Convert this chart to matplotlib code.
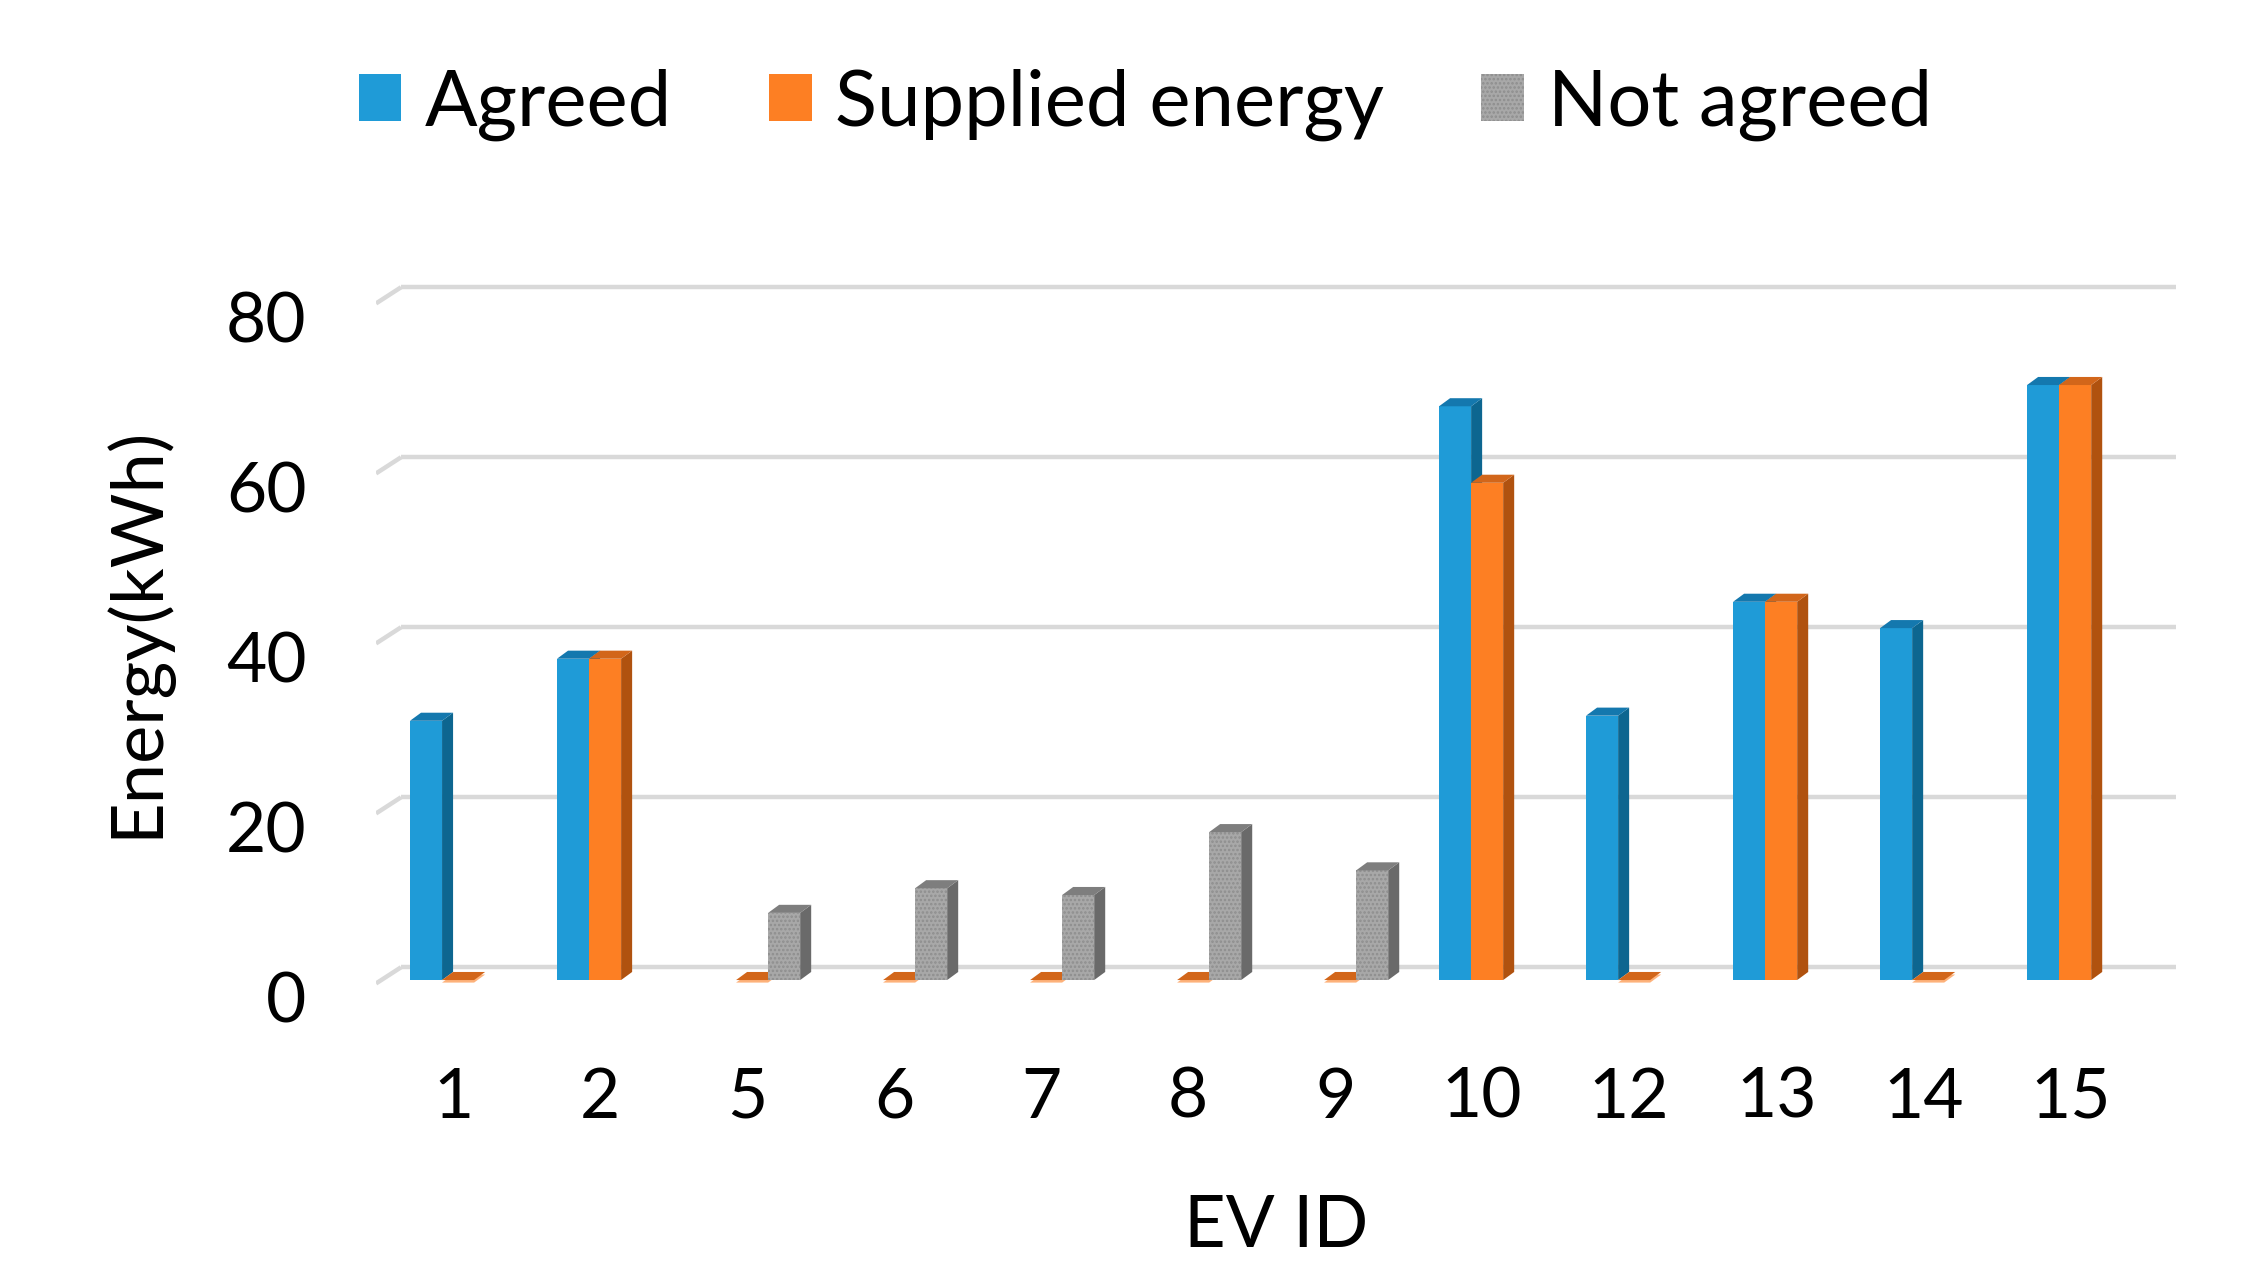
import matplotlib
matplotlib.use("Agg")
import matplotlib.pyplot as plt
from matplotlib.patches import Polygon, Patch
from matplotlib.transforms import ScaledTranslation
import numpy as np

nan = float("nan")
ev_ids = ["1", "2", "5", "6", "7", "8", "9", "10", "12", "13", "14", "15"]
agreed = [30.5, 37.8, nan, nan, nan, nan, nan, 67.5, 31.1, 44.5, 41.4, 70.0]
supplied = [0, 37.8, 0, 0, 0, 0, 0, 58.5, 0, 44.5, 0, 70.0]
not_agreed = [nan, nan, 7.9, 10.8, 10.0, 17.4, 12.9, nan, nan, nan, nan, nan]
series_names = ["Agreed", "Supplied energy", "Not agreed"]
yticks = [0, 20, 40, 60, 80]

plt.rcParams['font.family'] = ['Lato', 'DejaVu Sans']
plt.rcParams['hatch.linewidth'] = 1.2

fig = plt.figure(figsize=(22.41, 12.73), dpi=100)
ax = fig.add_axes([0.1678, 0.2101, 0.8032, 0.5876])
ax.set_xlim(-0.524, 11.72)
ax.set_ylim(-3, 85)

faces = ["#1F9BD7", "#FD7F23", "#A8A8A8"]
sides = ["#0D6690", "#B0520F", "#6A6A6A"]
tops = ["#1478AE", "#D2661A", "#7E7E7E"]
hatches = [None, None, "...."]
offsets = [-0.184, 0.034, 0.252]
w = 0.218
dx, dy = 0.075, 0.95
gdy = 1.5

# back-wall gridlines with perspective stub
xl, xr = ax.get_xlim()
stub = 0.17
for v in yticks:
    ax.plot([xl + stub, xr], [v + gdy, v + gdy], color="#D9D9D9", lw=3.2,
            solid_capstyle="butt", zorder=1)
    ax.plot([xl, xl + stub], [v - 0.4, v + gdy], color="#D9D9D9", lw=3.2,
            solid_capstyle="butt", zorder=1)

x = np.arange(len(ev_ids))
for si, data in enumerate([agreed, supplied, not_agreed]):
    for j, v in enumerate(data):
        if np.isnan(v):
            continue
        xc = x[j] + offsets[si]
        x0, x1 = xc - w / 2, xc + w / 2
        z = 3 + j * 0.01 + si * 0.001
        if v > 0:
            ax.bar(xc, v, width=w, color=faces[si], edgecolor="#8E8E8E" if si == 2 else faces[si],
                   hatch=hatches[si], linewidth=0, zorder=z)
            side = Polygon([(x1, 0), (x1 + dx, dy), (x1 + dx, v + dy), (x1, v)],
                           closed=True, facecolor=sides[si], edgecolor="none", zorder=z)
            ax.add_patch(side)
        top = Polygon([(x0, v), (x0 + dx, v + dy), (x1 + dx, v + dy), (x1, v)],
                      closed=True, facecolor=tops[si], edgecolor="none", zorder=z)
        ax.add_patch(top)
        if v == 0:
            slab = Polygon([(x0, -0.3), (x0 + dx, dy - 0.3), (x1 + dx, dy - 0.3), (x1, -0.3)],
                           closed=True, facecolor=faces[si], edgecolor="none", alpha=0.6, zorder=z - 0.0005)
            ax.add_patch(slab)

ax.set_xticks(x)
ax.set_xticklabels(ev_ids, fontsize=50)
ax.set_yticks(yticks)
ax.set_yticklabels([str(t) for t in yticks], fontsize=50)
ax.tick_params(axis="both", length=0)
ax.tick_params(axis="x", pad=44)
ax.tick_params(axis="y", pad=50)
shift = ScaledTranslation(0, -12 / 72, fig.dpi_scale_trans)
for lbl in ax.get_yticklabels():
    lbl.set_transform(lbl.get_transform() + shift)
for s in ax.spines.values():
    s.set_visible(False)

ax.set_xlabel("EV ID", fontsize=52, labelpad=46)
ax.set_ylabel("Energy(kWh)", fontsize=52, labelpad=40)

handles = [Patch(facecolor=faces[0], edgecolor="none"),
           Patch(facecolor=faces[1], edgecolor="none"),
           Patch(facecolor=faces[2], edgecolor="#8E8E8E", hatch="....", linewidth=0)]
fig.legend(handles, series_names, loc="center", bbox_to_anchor=(0.511, 0.918), ncol=3,
           frameon=False, fontsize=56, handlelength=0.55, handleheight=0.55,
           handletextpad=0.3, columnspacing=1.25)

fig.savefig("out.png", dpi=100)
